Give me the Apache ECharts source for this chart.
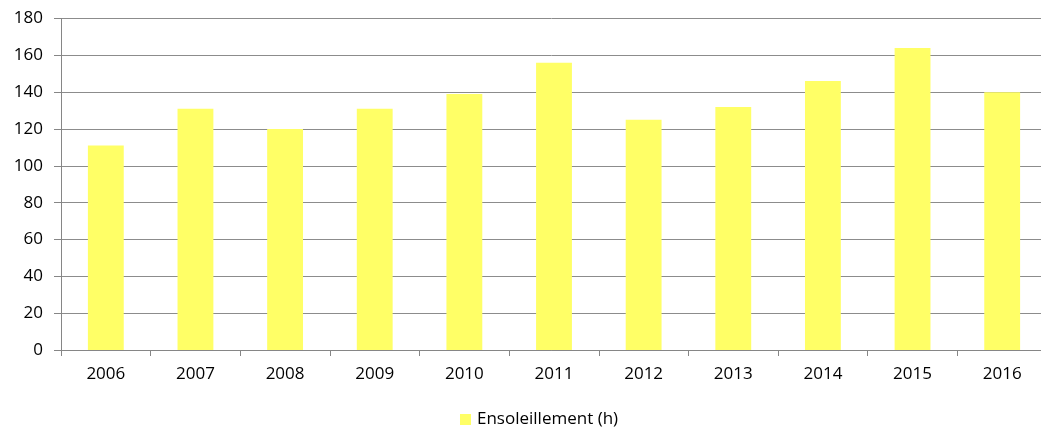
<!DOCTYPE html>
<html>
<head>
<meta charset="utf-8">
<script src="https://cdn.jsdelivr.net/npm/echarts@6/dist/echarts.min.js"></script>
<style>
  html, body { margin: 0; padding: 0; background: #ffffff; }
  #chart { width: 1041px; height: 430px; }
</style>
</head>
<body>
<div id="chart"></div>
<script>
// Annual sunshine hours by year
const years = ['2006', '2007', '2008', '2009', '2010', '2011', '2012', '2013', '2014', '2015', '2016'];
const sunshineHours = [111, 131, 120, 131, 139, 156, 125, 132, 146, 164, 140];
const seriesName = 'Ensoleillement (h)';
const yTicks = { min: 0, max: 180, interval: 20 };

const font = '"Open Sans", "Noto Sans", sans-serif';
const chart = echarts.init(document.getElementById('chart'), null, { renderer: 'canvas' });

chart.setOption({
  animation: false,
  backgroundColor: '#ffffff',
  textStyle: { fontFamily: font },
  // plot area runs slightly past the right edge of the canvas
  grid: { left: 61, width: 986, top: 18.5, bottom: 80, containLabel: false, outerBoundsMode: 'none' },
  legend: {
    data: [seriesName],
    left: 455,
    top: 406,
    icon: 'rect',
    itemWidth: 11,
    itemHeight: 11,
    itemGap: 6,
    textStyle: { fontFamily: font, fontSize: 17, color: '#000000', padding: [0, 0, 0, 1] }
  },
  xAxis: {
    type: 'category',
    data: years,
    boundaryGap: true,
    axisLine: { show: true, lineStyle: { color: '#868686', width: 1 } },
    axisTick: { show: true, length: 6, lineStyle: { color: '#868686' } },
    axisLabel: { color: '#000000', fontSize: 17, fontFamily: font, margin: 16 },
    splitLine: { show: false }
  },
  yAxis: {
    type: 'value',
    min: yTicks.min,
    max: yTicks.max,
    interval: yTicks.interval,
    axisLine: { show: true, lineStyle: { color: '#868686', width: 1 } },
    axisTick: { show: true, length: 7, lineStyle: { color: '#868686' } },
    axisLabel: { color: '#000000', fontSize: 17, fontFamily: font, margin: 18 },
    splitLine: { show: true, lineStyle: { color: '#8c8c8c', width: 1 } }
  },
  series: [{
    name: seriesName,
    type: 'bar',
    data: sunshineHours,
    barCategoryGap: '60%',
    itemStyle: { color: '#FFFF66' }
  }]
});
</script>
</body>
</html>
